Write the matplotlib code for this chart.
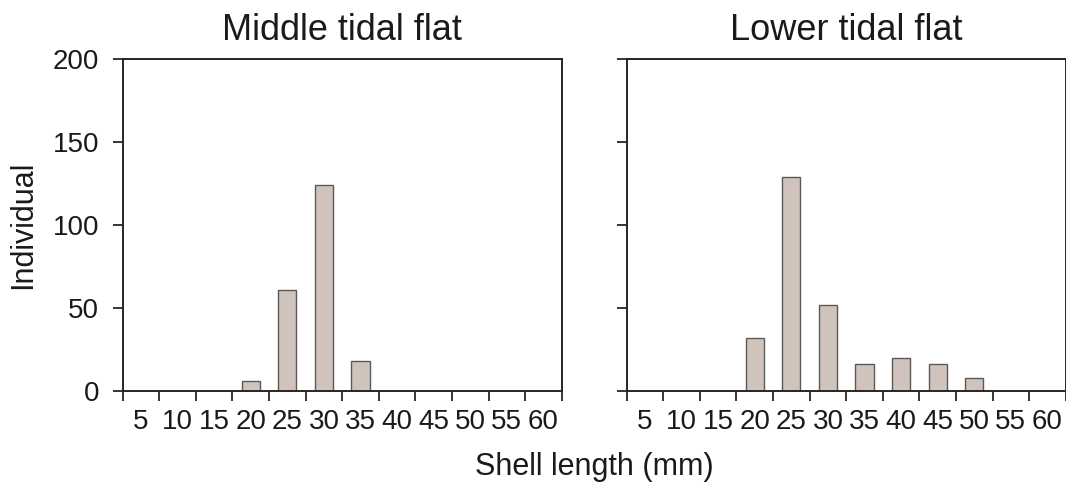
import matplotlib
matplotlib.use("Agg")
import matplotlib.pyplot as plt
import numpy as np

# Shell length classes (mm) and counts
size_classes = ["5", "10", "15", "20", "25", "30", "35", "40", "45", "50", "55", "60"]
middle_flat = [0, 0, 0, 6, 61, 124, 18, 0, 0, 0, 0, 0]
lower_flat = [0, 0, 0, 32, 129, 52, 16, 20, 16, 8, 0, 0]

titles = ["Middle tidal flat", "Lower tidal flat"]
y_ticks = [0, 50, 100, 150, 200]

plt.rcParams["font.family"] = ["Liberation Sans", "DejaVu Sans"]
text_color = "#1a1a1a"
bar_color = "#cfc3bc"
edge_color = "#5a5a5a"
spine_color = "#2a2422"

W, H = 1066, 483
fig = plt.figure(figsize=(W / 100, H / 100), dpi=100)

# axes boxes in pixels: left, top, right, bottom
boxes = [(122.7, 59, 561.7, 391), (626.7, 59, 1065.7, 391)]

x = np.arange(len(size_classes))
for i, (counts, title, box) in enumerate(zip([middle_flat, lower_flat], titles, boxes)):
    l, t, r, b = box
    ax = fig.add_axes([l / W, (H - b) / H, (r - l) / W, (b - t) / H])
    ax.bar(x, counts, width=0.5, color=bar_color, edgecolor=edge_color,
           linewidth=1.0, zorder=2)
    ax.set_xlim(-0.5, len(size_classes) - 0.5)
    ax.set_ylim(0, 200)

    # boundary ticks without labels, labels in the middle of each class
    ax.set_xticks(np.arange(len(size_classes) + 1) - 0.5)
    ax.set_xticklabels([])
    ax.set_xticks(x, minor=True)
    ax.set_xticklabels(size_classes, minor=True)
    ax.tick_params(axis="x", which="major", direction="out", length=7, width=1.3,
                   color=spine_color)
    ax.tick_params(axis="x", which="minor", length=0, pad=13, labelsize=20,
                   labelcolor=text_color)

    ax.set_yticks(y_ticks)
    ax.tick_params(axis="y", direction="out", length=7, width=1.3, color=spine_color,
                   pad=10, labelsize=20, labelcolor=text_color)
    if i == 1:
        ax.set_yticklabels([])

    for sp in ax.spines.values():
        sp.set_color(spine_color)
        sp.set_linewidth(1.4)

    ax.set_title(title, fontsize=26, color=text_color, pad=14)

fig.text(594 / W, (H - 475) / H, "Shell length (mm)", ha="center", va="baseline",
         fontsize=22, color=text_color)
fig.text(23 / W, (H - 225) / H, "Individual", ha="center", va="center",
         rotation=90, fontsize=22, color=text_color)

fig.savefig("out.png", dpi=100)
